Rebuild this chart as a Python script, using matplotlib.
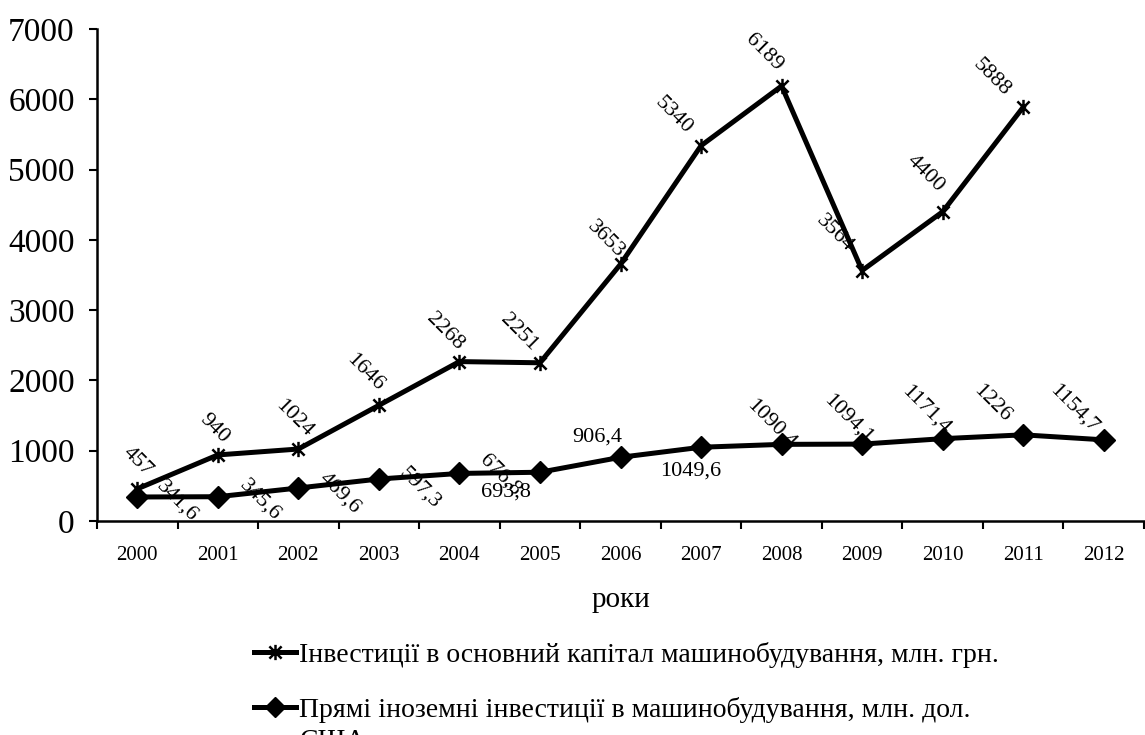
import numpy as np
import matplotlib
matplotlib.use("Agg")
import matplotlib.pyplot as plt
from matplotlib.path import Path
from matplotlib.lines import Line2D

# ---- data ----
years = ["2000", "2001", "2002", "2003", "2004", "2005", "2006",
         "2007", "2008", "2009", "2010", "2011", "2012"]
capital = [457, 940, 1024, 1646, 2268, 2251, 3653, 5340, 6189, 3564, 4400, 5888, np.nan]
fdi = [341.6, 345.6, 469.6, 597.3, 676.8, 693.8, 906.4, 1049.6, 1090.4,
       1094.1, 1171.4, 1226, 1154.7]
yticks = [0, 1000, 2000, 3000, 4000, 5000, 6000, 7000]
label_capital = "Інвестиції в основний капітал машинобудування, млн. грн."
label_fdi = "Прямі іноземні інвестиції в машинобудування, млн. дол."
label_fdi_cont = "США"
xlabel = "роки"

# ---- label placement (pixel offsets, image-down positive) ----
cap_off = [(0, -27), (-4, -26), (-4, -30), (-14, -33), (-15, -30), (-21, -30),
           (-15, -25), (-27, -30), (-18, -33), (-27, -37), (-17, -38), (-32, -30)]
fdi_off = [(40, 4), (42, 3), (42, 5), (41, 9), (41, 2), (-34, 20), (-23, -20),
           (-10, 24), (-10, -20), (-14, -25), (-17, -29), (-31, -31), (-30, -31)]
fdi_rot = [-45, -45, -45, -45, -45, 0, 0, 0, -45, -45, -45, -45, -45]

plt.rcParams['font.family'] = ['Liberation Serif', 'DejaVu Serif']

W, H = 1145, 735
fig = plt.figure(figsize=(W / 100, H / 100), dpi=100)
ax = fig.add_axes([97 / W, 1 - 521 / H, (1144 - 97) / W, (521 - 29) / H])

x = np.arange(len(years))

star = Path([(-1, -1), (1, 1), (-1, 1), (1, -1), (0, -1.25), (0, 1.25)],
            [Path.MOVETO, Path.LINETO, Path.MOVETO, Path.LINETO, Path.MOVETO, Path.LINETO])

ax.plot(x, capital, color='black', lw=3.6, marker=star, ms=11, mew=1.8,
        mec='black', mfc='none', zorder=3)
ax.plot(x, fdi, color='black', lw=3.6, marker='D', ms=11.5, mec='black',
        mfc='black', zorder=3)

for xi, v, (dx, dy) in zip(x, capital, cap_off):
    if np.isnan(v):
        continue
    ax.annotate(f"{v:g}".replace('.', ','), (xi, v), xytext=(dx, -dy),
                textcoords='offset pixels', ha='center', va='center',
                rotation=-45, fontsize=16, zorder=4)
for xi, v, (dx, dy), r in zip(x, fdi, fdi_off, fdi_rot):
    ax.annotate(f"{v:g}".replace('.', ','), (xi, v), xytext=(dx, -dy),
                textcoords='offset pixels', ha='center', va='center',
                rotation=r, fontsize=16, zorder=4)

ax.set_xlim(-0.5, len(years) - 0.5)
ax.set_ylim(0, 7000)
ax.set_yticks(yticks)
ax.set_yticklabels([str(t) for t in yticks], fontsize=24)
ax.set_xticks(x)
ax.set_xticklabels(years, fontsize=15)
ax.set_xticks(np.arange(len(years) + 1) - 0.5, minor=True)
ax.tick_params(axis='x', which='major', length=0, pad=18)
ax.tick_params(axis='x', which='minor', length=6, width=1.5, direction='out')
ax.tick_params(axis='y', length=6, width=1.5, direction='out', pad=10)
for s in ['top', 'right']:
    ax.spines[s].set_visible(False)
for s in ['left', 'bottom']:
    ax.spines[s].set_linewidth(1.8)

fig.text(621 / W, 1 - 600 / H, xlabel, ha='center', va='center', fontsize=21)

h1 = Line2D([], [], color='black', lw=3.6, marker=star, ms=11, mew=1.8)
h2 = Line2D([], [], color='black', lw=3.6, marker='D', ms=10)
fig.legend([h1, h2], [label_capital, label_fdi], loc='upper left',
           bbox_to_anchor=(254 / W, 1 - 642 / H), frameon=False, fontsize=20,
           handlelength=1.5, handletextpad=0.12, labelspacing=1.05,
           borderpad=0, borderaxespad=0)
fig.text(300 / W, 1 - 748 / H, label_fdi_cont, ha='left', va='baseline', fontsize=20)

fig.savefig("out.png", dpi=100)
